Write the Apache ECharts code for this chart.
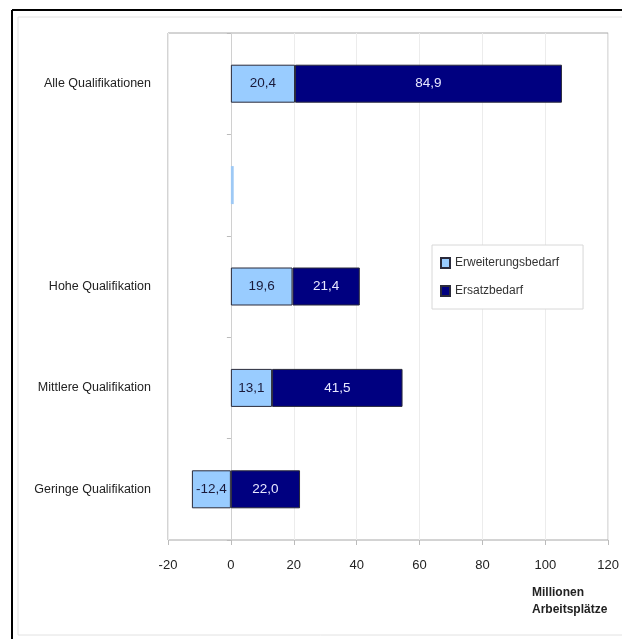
<!DOCTYPE html>
<html>
<head>
<meta charset="utf-8">
<script src="https://cdn.jsdelivr.net/npm/echarts@6/dist/echarts.min.js"></script>
<style>
html,body{margin:0;padding:0;background:#fff;}
#c{width:622px;height:639px;}
</style>
</head>
<body>
<div id="c"></div>
<script>
var categories = ['Alle Qualifikationen', '', 'Hohe Qualifikation', 'Mittlere Qualifikation', 'Geringe Qualifikation'];
var erweiterungsbedarf = [20.4, 0.9, 19.6, 13.1, -12.4];
var ersatzbedarf = [84.9, null, 21.4, 41.5, 22.0];
var xTicks = [-20, 0, 20, 40, 60, 80, 100, 120];
var seriesNames = ['Erweiterungsbedarf', 'Ersatzbedarf'];

function fmt(v) { return v.toFixed(1).replace('.', ','); }

var chart = echarts.init(document.getElementById('c'));
var font = 'Arial, "Liberation Sans", sans-serif';

var erwData = erweiterungsbedarf.map(function (v, i) {
  if (categories[i] === '') {
    return { value: v, itemStyle: { borderWidth: 0, color: '#9ec9f5' }, label: { show: false } };
  }
  return v;
});

chart.setOption({
  animation: false,
  backgroundColor: '#fff',
  textStyle: { fontFamily: font },
  grid: { left: 168, right: 5, top: 33, bottom: 99, show: true, borderColor: '#a8a8a8', borderWidth: 1 },
  title: {
    text: 'Millionen\nArbeitsplätze',
    left: 527, top: 579,
    textStyle: { fontSize: 12, fontWeight: 'bold', color: '#222', fontFamily: font, lineHeight: 17 }
  },
  legend: {
    orient: 'vertical',
    left: 432, top: 245,
    padding: [12, 24, 12, 8],
    itemGap: 16,
    itemWidth: 9, itemHeight: 10,
    backgroundColor: '#fff',
    borderColor: '#d8d8d8', borderWidth: 1,
    textStyle: { fontSize: 12, color: '#333', fontFamily: font },
    data: seriesNames.map(function (n) { return { name: n, icon: 'rect' }; })
  },
  xAxis: {
    type: 'value',
    min: xTicks[0], max: xTicks[xTicks.length - 1], interval: 20,
    axisLine: { show: false },
    axisTick: { show: true, length: 5, lineStyle: { color: '#bbb' } },
    axisLabel: { fontSize: 13, color: '#222', margin: 19, fontFamily: font },
    splitLine: { show: true, lineStyle: { color: '#ececec' } }
  },
  yAxis: [{
    type: 'category',
    data: categories,
    inverse: true,
    axisLine: { show: false, onZero: false },
    axisTick: { show: false },
    axisLabel: { fontSize: 12.5, color: '#222', margin: 17, fontFamily: font }
  }, {
    type: 'category',
    data: categories,
    inverse: true,
    position: 'left',
    axisLine: { show: true, onZero: true, lineStyle: { color: '#d0d0d0' } },
    axisTick: { show: true, length: 4, lineStyle: { color: '#bbb' } },
    axisLabel: { show: false }
  }],
  series: [{
    name: seriesNames[0],
    type: 'bar',
    stack: 'a',
    barWidth: 38,
    data: erwData,
    itemStyle: { color: '#99ccff', borderColor: '#2a2a3a', borderWidth: 1 },
    label: { show: true, position: 'inside', fontSize: 13.5, color: '#1a1a3a', fontFamily: font,
      formatter: function (p) { return fmt(p.value); } }
  }, {
    name: seriesNames[1],
    type: 'bar',
    stack: 'a',
    barWidth: 38,
    data: ersatzbedarf,
    itemStyle: { color: '#000080', borderColor: '#2a2a3a', borderWidth: 1 },
    label: { show: true, position: 'inside', fontSize: 13.5, color: '#e8e8ff', fontFamily: font,
      formatter: function (p) { return p.value == null ? '' : fmt(p.value); } }
  }],
  graphic: [
    { type: 'rect', shape: { x: 18, y: 17, width: 620, height: 618 }, style: { fill: 'none', stroke: '#e2e2e2', lineWidth: 1 }, silent: true, z: -1 },
    { type: 'line', shape: { x1: 12, y1: 10, x2: 622, y2: 10 }, style: { stroke: '#000', lineWidth: 2 }, silent: true },
    { type: 'line', shape: { x1: 12, y1: 10, x2: 12, y2: 639 }, style: { stroke: '#000', lineWidth: 2 }, silent: true }
  ]
});
</script>
</body>
</html>
